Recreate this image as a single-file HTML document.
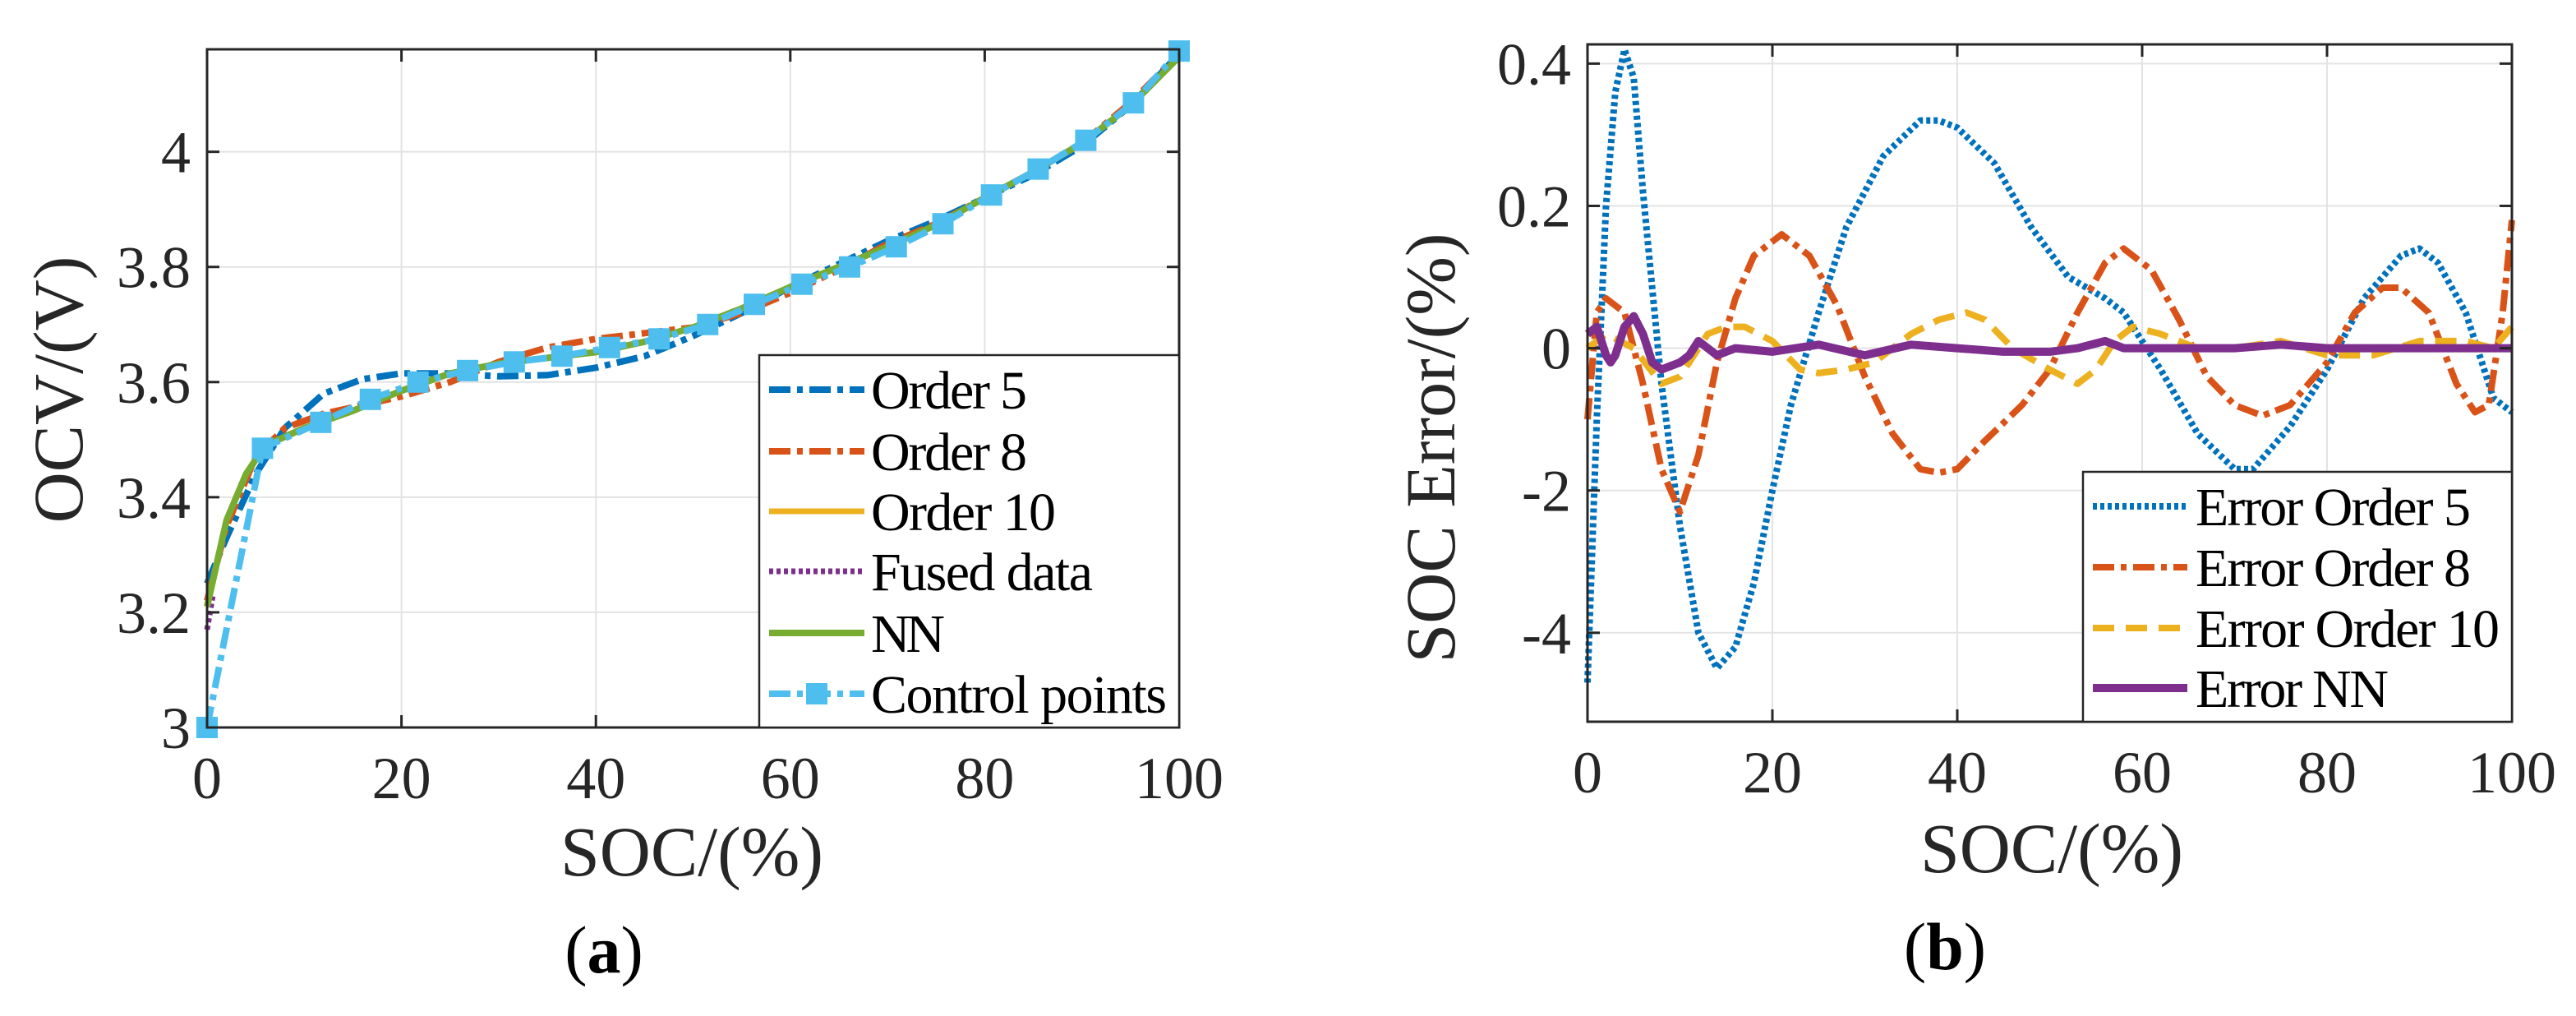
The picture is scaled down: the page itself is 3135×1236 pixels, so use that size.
<!DOCTYPE html>
<html><head><meta charset="utf-8"><style>
html,body{margin:0;padding:0;background:#fff;}
svg{display:block;font-family:"Liberation Serif",serif;}
</style></head><body>
<svg id="fig" width="3135" height="1236" viewBox="0 0 3135 1236" xmlns="http://www.w3.org/2000/svg">
<g id="pa"></g>
<g id="pb"></g>
</svg>
<script>
// ---- Chart (a) data ----
const xTicksA = [0,20,40,60,80,100];
const yTicksA = [3,3.2,3.4,3.6,3.8,4];
const yTickLabelsA = ['3','3.2','3.4','3.6','3.8','4'];
const o5X = [0,2,5,8,12,16,20,25,30,35,40,45,50,55,60,65,70,75,80,85,90,95,100];
const o5Y = [3.25,3.33,3.44,3.52,3.58,3.605,3.615,3.615,3.61,3.612,3.625,3.645,3.68,3.72,3.765,3.805,3.845,3.88,3.92,3.96,4.01,4.08,4.17];
const o8X = [0,2,5,8,12,16,20,25,30,35,40,45,50,55,60,65,70,75,80,85,90,95,100];
const o8Y = [3.22,3.35,3.47,3.52,3.545,3.56,3.575,3.6,3.635,3.66,3.675,3.685,3.695,3.72,3.755,3.795,3.84,3.875,3.92,3.965,4.015,4.085,4.17];
const o10X = [0,2,4,6,10,15,20,25,30,35,40,45,50,55,60,65,70,75,80,85,90,95,100];
const o10Y = [3.21,3.36,3.44,3.49,3.52,3.55,3.585,3.615,3.632,3.642,3.652,3.67,3.695,3.728,3.765,3.8,3.835,3.873,3.92,3.965,4.015,4.08,4.165];
const fusedX = [0,0.3,0.6];
const fusedY = [3.17,3.2,3.23];
const nnX = [0,2,4,6,10,15,20,25,30,35,40,45,50,55,60,65,70,75,80,85,90,95,100];
const nnY = [3.21,3.36,3.44,3.49,3.52,3.55,3.585,3.615,3.632,3.642,3.652,3.67,3.695,3.728,3.765,3.8,3.835,3.873,3.92,3.965,4.015,4.08,4.165];
const cpX = [0,5.7,11.7,16.8,21.7,26.8,31.6,36.5,41.4,46.5,51.5,56.3,61.2,66.1,70.9,75.7,80.7,85.5,90.4,95.3,100];
const cpY = [3.0,3.485,3.53,3.57,3.60,3.62,3.635,3.645,3.66,3.675,3.70,3.735,3.77,3.80,3.835,3.875,3.925,3.97,4.02,4.085,4.175];
// ---- Chart (b) data ----
const xTicksB = [0,20,40,60,80,100];
const yTicksB = [-0.4,-0.2,0,0.2,0.4];
const yTickLabelsB = ['-4','-2','0','0.2','0.4'];
const e5X = [0,1,2,3,4,5,6,8,10,12,14,16,18,20,22,25,28,32,36,38,40,44,48,52,56,58,62,66,70,72,76,80,84,88,90,92,95,98,100];
const e5Y = [-0.47,-0.1,0.2,0.36,0.42,0.38,0.22,-0.05,-0.25,-0.4,-0.45,-0.42,-0.33,-0.2,-0.08,0.05,0.17,0.27,0.32,0.32,0.31,0.26,0.17,0.1,0.07,0.05,-0.03,-0.12,-0.17,-0.17,-0.11,-0.03,0.07,0.13,0.14,0.12,0.05,-0.07,-0.09];
const e8X = [0,1,2,4,6,8,10,12,14,16,18,21,24,27,30,33,36,38,40,43,47,50,53,56,58,61,64,67,70,73,76,80,83,86,88,91,94,96,97.5,99,100];
const e8Y = [-0.1,0.05,0.07,0.05,-0.05,-0.17,-0.23,-0.15,-0.02,0.07,0.13,0.16,0.13,0.06,-0.04,-0.12,-0.17,-0.175,-0.17,-0.13,-0.08,-0.03,0.05,0.12,0.14,0.11,0.04,-0.04,-0.08,-0.095,-0.08,-0.02,0.05,0.085,0.085,0.05,-0.05,-0.09,-0.08,0.05,0.18];
const e10X = [0,2,5,8,10,13,15,17,20,23,25,28,31,35,38,41,43,46,50,53,55,57,59,62,66,70,75,80,85,90,95,98,100];
const e10Y = [0,0.02,0,-0.05,-0.04,0.02,0.03,0.03,0.01,-0.03,-0.035,-0.03,-0.02,0.02,0.04,0.05,0.04,0,-0.03,-0.05,-0.03,0.01,0.03,0.02,0,0,0.01,-0.01,-0.01,0.01,0.01,0,0.03];
const enX = [0,1,2,2.5,3,4,5,6,7,8,9,10,11,12,13,14,16,20,25,30,35,40,45,50,53,56,58,65,70,75,80,90,100];
const enY = [0.02,0.03,-0.01,-0.02,-0.01,0.03,0.045,0.02,-0.02,-0.03,-0.025,-0.02,-0.01,0.01,0,-0.01,0,-0.005,0.005,-0.01,0.005,0,-0.005,-0.005,0,0.01,0,0,0,0.005,0,0,0];

const NS='http://www.w3.org/2000/svg';
function mk(parent,tag,attrs,text){const e=document.createElementNS(NS,tag);for(const k in attrs)e.setAttribute(k,attrs[k]);if(text!==undefined)e.textContent=text;parent.appendChild(e);return e;}

function axes(g,L,R,T,B,xmin,xmax,ymin,ymax){
  const sx=v=>L+(v-xmin)/(xmax-xmin)*(R-L);
  const sy=v=>B-(v-ymin)/(ymax-ymin)*(B-T);
  return {sx,sy,L,R,T,B};
}
function drawFrame(g,a,xt,yt){
  xt.forEach(v=>{const x=a.sx(v);
    const gl=mk(g,'line',{x1:x,x2:x,y1:a.T,y2:a.B,stroke:'#e3e3e3','stroke-width':2});
    
    
  });
  yt.forEach(v=>{const y=a.sy(v);
    const gl=mk(g,'line',{x1:a.L,x2:a.R,y1:y,y2:y,stroke:'#e3e3e3','stroke-width':2});
    
    
  });
}
function drawBox(g,a,xt,yt,ytl){
  const bx=mk(g,'rect',{x:a.L,y:a.T,width:a.R-a.L,height:a.B-a.T,fill:'none',stroke:'#262626','stroke-width':3});
  
  
  xt.forEach(v=>{const x=a.sx(v);
    mk(g,'line',{x1:x,x2:x,y1:a.B,y2:a.B-15,stroke:'#262626','stroke-width':3});
    mk(g,'line',{x1:x,x2:x,y1:a.T,y2:a.T+15,stroke:'#262626','stroke-width':3});
    const t=mk(g,'text',{x:x,y:a.B+86,'text-anchor':'middle','font-size':72,fill:'#262626'},String(v));
    
    
  });
  yt.forEach((v,i)=>{const y=a.sy(v);
    mk(g,'line',{x1:a.L,x2:a.L+15,y1:y,y2:y,stroke:'#262626','stroke-width':3});
    mk(g,'line',{x1:a.R,x2:a.R-15,y1:y,y2:y,stroke:'#262626','stroke-width':3});
    const t=mk(g,'text',{x:a.L-20,y:y+25,'text-anchor':'end','font-size':72,fill:'#262626'},ytl[i]);
    
    
  });
}
function series(g,a,xs,ys,style,name){
  const d=xs.map((x,i)=>(i?'L':'M')+a.sx(x).toFixed(1)+' '+a.sy(ys[i]).toFixed(1)).join(' ');
  const p=mk(g,'path',Object.assign({d:d,fill:'none','stroke-linejoin':'round'},style));
  
  
  return p;
}
const S={
 o5:{stroke:'#0072BD','stroke-width':8,'stroke-dasharray':'26 8 7 8'},
 o8:{stroke:'#D95319','stroke-width':8,'stroke-dasharray':'26 8 7 8'},
 o10:{stroke:'#EDB120','stroke-width':7},
 fu:{stroke:'#7E2F8E','stroke-width':7,'stroke-dasharray':'5 4'},
 nn:{stroke:'#77AC30','stroke-width':8},
 cp:{stroke:'#4DBEEE','stroke-width':8,'stroke-dasharray':'26 8 7 8'},
 e5:{stroke:'#0072BD','stroke-width':8,'stroke-dasharray':'5 4'},
 e8:{stroke:'#D95319','stroke-width':8,'stroke-dasharray':'26 8 7 8'},
 e10:{stroke:'#EDB120','stroke-width':8,'stroke-dasharray':'26 14'},
 en:{stroke:'#7E2F8E','stroke-width':10}
};

// ---- Chart A ----
const ga=document.getElementById('pa');
const A=axes(ga,252,1435,60,885,0,100,3,4.178);
drawFrame(ga,A,xTicksA,yTicksA);
series(ga,A,o5X,o5Y,S.o5,'order-5-line');
series(ga,A,o8X,o8Y,S.o8,'order-8-line');
series(ga,A,o10X,o10Y,S.o10,'order-10-line');
series(ga,A,fusedX,fusedY,S.fu,'fused-data-line');
series(ga,A,nnX,nnY,S.nn,'nn-line');
series(ga,A,cpX,cpY,S.cp,'control-points-line');
cpX.forEach((x,i)=>{const r=mk(ga,'rect',{x:A.sx(x)-13,y:A.sy(cpY[i])-13,width:26,height:26,fill:'#4DBEEE'});
  
  });
drawBox(ga,A,xTicksA,yTicksA,yTickLabelsA);
(function(){
  const lg=mk(ga,'g',{});
  
  
  mk(lg,'rect',{x:924,y:432,width:511,height:453,fill:'#fff',stroke:'#262626','stroke-width':2.5});
  const items=[['Order 5',S.o5],['Order 8',S.o8],['Order 10',S.o10],['Fused data',S.fu],['NN',S.nn],['Control points',S.cp]];
  const ys=[474,549,622,695,770,844];
  items.forEach((it,i)=>{
    const e=mk(lg,'g',{});
    
    
    mk(e,'line',Object.assign({x1:936,x2:1052,y1:ys[i],y2:ys[i]},it[1]));
    if(i===5) mk(e,'rect',{x:981,y:ys[i]-13,width:26,height:26,fill:'#4DBEEE'});
    mk(e,'text',{x:1060,y:ys[i]+23,'font-size':66,fill:'#000',textLength:[190,190,225,270,90,360][i]},it[0]);
  });
})();
let t;
t=mk(ga,'text',{x:842,y:1065,'text-anchor':'middle','font-size':86,fill:'#262626'},'SOC/(%)');


t=mk(ga,'text',{x:0,y:0,transform:'translate(100,474) rotate(-90)','text-anchor':'middle','font-size':86,fill:'#262626'},'OCV/(V)');


t=mk(ga,'text',{x:735,y:1183,'text-anchor':'middle','font-size':82,fill:'#000'});
t.innerHTML='(<tspan font-weight="bold">a</tspan>)';



// ---- Chart B ----
const gb=document.getElementById('pb');
const B=axes(gb,1932,3057,54,878,0,100,-0.525,0.427);
drawFrame(gb,B,xTicksB,yTicksB);
series(gb,B,e5X,e5Y,S.e5,'error-order-5-line');
series(gb,B,e8X,e8Y,S.e8,'error-order-8-line');
series(gb,B,e10X,e10Y,S.e10,'error-order-10-line');
series(gb,B,enX,enY,S.en,'error-nn-line');
drawBox(gb,B,xTicksB,yTicksB,yTickLabelsB);
(function(){
  const lg=mk(gb,'g',{});
  
  
  mk(lg,'rect',{x:2535,y:574,width:522,height:304,fill:'#fff',stroke:'#262626','stroke-width':2.5});
  const items=[['Error Order 5',S.e5],['Error Order 8',S.e8],['Error Order 10',S.e10],['Error NN',S.en]];
  const ys=[616,690,764,837];
  items.forEach((it,i)=>{
    const e=mk(lg,'g',{});
    
    
    mk(e,'line',Object.assign({x1:2547,x2:2662,y1:ys[i],y2:ys[i]},it[1]));
    mk(e,'text',{x:2672,y:ys[i]+23,'font-size':66,fill:'#000',textLength:[335,335,370,235][i]},it[0]);
  });
})();
t=mk(gb,'text',{x:2497,y:1061,'text-anchor':'middle','font-size':86,fill:'#262626'},'SOC/(%)');


t=mk(gb,'text',{x:0,y:0,transform:'translate(1770,545) rotate(-90)','text-anchor':'middle','font-size':86,fill:'#262626'},'SOC Error/(%)');


t=mk(gb,'text',{x:2367,y:1179,'text-anchor':'middle','font-size':82,fill:'#000'});
t.innerHTML='(<tspan font-weight="bold">b</tspan>)';


</script>
</body></html>
